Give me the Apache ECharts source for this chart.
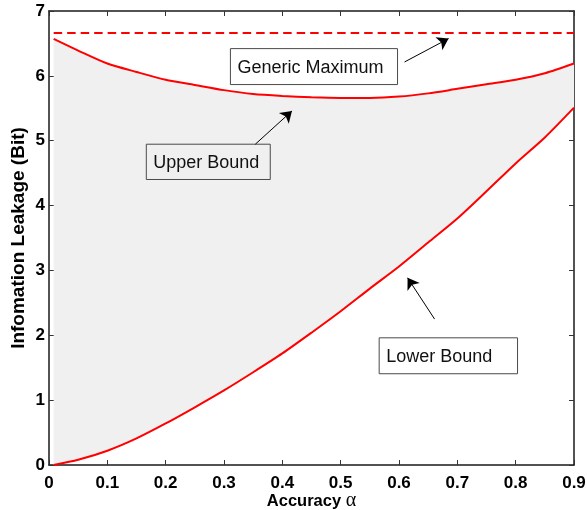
<!DOCTYPE html>
<html>
<head>
<meta charset="utf-8">
<script src="https://cdn.jsdelivr.net/npm/echarts@6/dist/echarts.min.js"></script>
<style>
  html, body { margin: 0; padding: 0; background: #ffffff; }
  #chart { width: 587px; height: 510px; }
</style>
</head>
<body>
<div id="chart"></div>
<script>
// Accuracy alpha (x) and information leakage in bits (y)
const accuracy   = [0.008, 0.05, 0.1, 0.15, 0.2, 0.25, 0.3, 0.35, 0.4, 0.45, 0.5, 0.55, 0.6, 0.65, 0.7, 0.75, 0.8, 0.85, 0.9];
const upperBound = [6.57, 6.39, 6.19, 6.06, 5.94, 5.86, 5.78, 5.72, 5.69, 5.67, 5.66, 5.66, 5.68, 5.73, 5.80, 5.87, 5.94, 6.04, 6.19];
const lowerBound = [0.00, 0.08, 0.22, 0.41, 0.64, 0.89, 1.15, 1.43, 1.72, 2.04, 2.37, 2.72, 3.06, 3.43, 3.80, 4.22, 4.65, 5.05, 5.51];
const genericMaximum = 6.66;

// Axis ranges and tick steps
const xRange = [0, 0.9], xStep = 0.1;
const yRange = [0, 7],   yStep = 1;

// Annotation labels, their boxes [x0, y0, x1, y1] and arrows (data units)
const annotationText = ['Generic Maximum', 'Upper Bound', 'Lower Bound'];
const annotationBox  = [[0.311, 6.42, 0.5975, 5.866], [0.1668, 4.946, 0.3793, 4.402], [0.566, 1.961, 0.8032, 1.407]];
const arrowFrom      = [[0.6095, 6.214], [0.3537, 4.946], [0.661, 2.25]];
const arrowTo        = [[0.685, 6.575], [0.4165, 5.459], [0.6147, 2.886]];

const pairs = (xs, ys) => xs.map((x, i) => [x, ys[i]]);

const RED = '#ff0000';
const FONT = '"Liberation Sans", Arial, Helvetica, sans-serif';

const chart = echarts.init(document.getElementById('chart'), null, { renderer: 'canvas' });

const axisCommon = {
  type: 'value',
  splitLine: { show: false },
  axisLine: { show: true, onZero: false, lineStyle: { color: '#1a1a1a', width: 1.5 } },
  axisTick: { show: true, inside: true, length: 5, lineStyle: { color: '#333', width: 1 } }
};
const tickLabel = { fontSize: 17, fontWeight: 'bold', color: '#000', fontFamily: FONT };

chart.setOption({
  animation: false,
  backgroundColor: '#ffffff',
  grid: { left: 49, right: 13, top: 11, bottom: 45, containLabel: false, outerBoundsMode: 'none' },
  xAxis: [
    Object.assign({}, axisCommon, {
      position: 'bottom', min: xRange[0], max: xRange[1], interval: xStep,
      axisLabel: Object.assign({ margin: 10 }, tickLabel),
      name: '{t|Accuracy }{a|α}', nameLocation: 'middle', nameGap: 26, nameMoveOverlap: false,
      nameTextStyle: {
        rich: {
          t: { fontSize: 16.5, fontWeight: 'bold', color: '#000', fontFamily: FONT },
          a: { fontSize: 20, fontWeight: 'normal', color: '#000', fontFamily: '"Liberation Serif", serif' }
        }
      }
    }),
    Object.assign({}, axisCommon, {
      position: 'top', min: xRange[0], max: xRange[1], interval: xStep,
      axisLabel: { show: false }
    })
  ],
  yAxis: [
    Object.assign({}, axisCommon, {
      position: 'left', min: yRange[0], max: yRange[1], interval: yStep,
      axisLabel: Object.assign({ margin: 4 }, tickLabel),
      name: 'Infomation Leakage (Bit)', nameLocation: 'middle', nameGap: 21, nameMoveOverlap: false,
      nameTextStyle: { fontSize: 19, fontWeight: 'bold', color: '#000', fontFamily: FONT }
    }),
    Object.assign({}, axisCommon, {
      position: 'right', min: yRange[0], max: yRange[1], interval: yStep,
      axisLabel: { show: false }
    })
  ],
  series: [
    // shaded region between the upper and lower bounds
    {
      type: 'custom', silent: true, z: 1, clip: true,
      data: pairs(accuracy, upperBound),
      encode: { x: 0, y: 1 },
      renderItem: function (params, api) {
        if (params.dataIndex !== 0) return null;
        const pts = [];
        for (let i = 0; i < accuracy.length; i++) pts.push(api.coord([accuracy[i], upperBound[i]]));
        for (let i = accuracy.length - 1; i >= 0; i--) pts.push(api.coord([accuracy[i], lowerBound[i]]));
        return { type: 'polygon', shape: { points: pts }, style: { fill: '#f0f0f0', stroke: 'none' } };
      }
    },
    {
      name: 'Upper Bound', type: 'line', data: pairs(accuracy, upperBound),
      symbol: 'none', smooth: 0.25, lineStyle: { color: RED, width: 2 }, z: 3
    },
    {
      name: 'Lower Bound', type: 'line', data: pairs(accuracy, lowerBound),
      symbol: 'none', smooth: 0.25, lineStyle: { color: RED, width: 2 }, z: 3
    },
    {
      name: 'Generic Maximum', type: 'line',
      data: [[accuracy[0], genericMaximum], [accuracy[accuracy.length - 1], genericMaximum]],
      symbol: 'none', lineStyle: { color: RED, width: 2, type: [8.5, 5] }, z: 3,
      markLine: {
        silent: true, animation: false,
        symbol: ['none', 'arrow'], symbolSize: 11,
        label: { show: false },
        lineStyle: { color: '#000', width: 1, type: 'solid' },
        emphasis: { disabled: true },
        data: arrowFrom.map((p, i) => [{ coord: p }, { coord: arrowTo[i] }])
      }
    },
    // annotation boxes with their labels
    {
      type: 'custom', silent: true, z: 4, clip: false,
      data: annotationBox,
      encode: { x: [0, 2], y: [1, 3] },
      renderItem: function (params, api) {
        const p0 = api.coord([api.value(0), api.value(1)]);
        const p1 = api.coord([api.value(2), api.value(3)]);
        return {
          type: 'group',
          children: [
            {
              type: 'rect',
              shape: { x: p0[0], y: p0[1], width: p1[0] - p0[0], height: p1[1] - p0[1] },
              style: { fill: 'none', stroke: '#4a4a4a', lineWidth: 1 }
            },
            {
              type: 'text',
              style: {
                text: annotationText[params.dataIndex],
                x: p0[0] + 7, y: (p0[1] + p1[1]) / 2 + 1,
                verticalAlign: 'middle', align: 'left',
                font: '18px ' + FONT, fill: '#111'
              }
            }
          ]
        };
      }
    }
  ]
});
</script>
</body>
</html>
